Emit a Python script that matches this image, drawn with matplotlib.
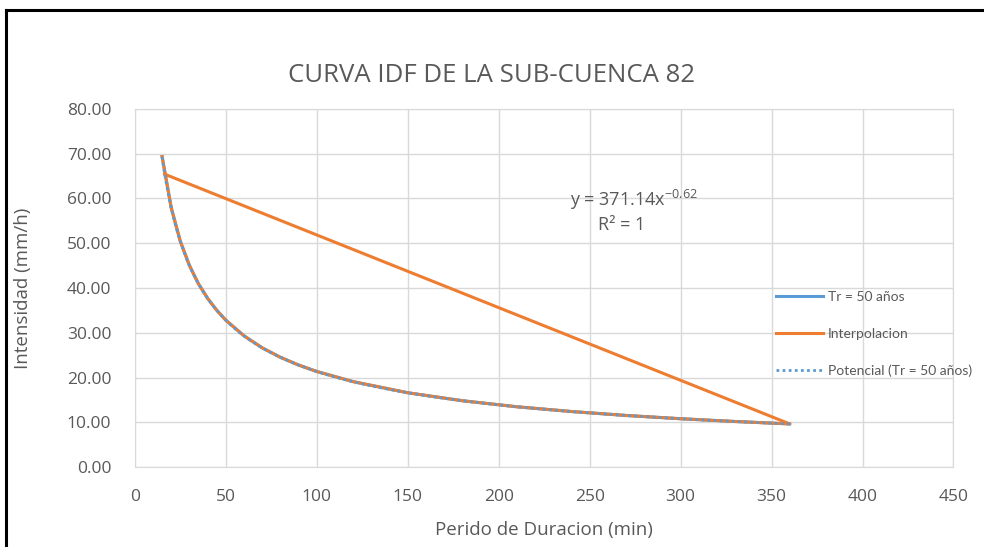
import matplotlib
matplotlib.use('Agg')
import matplotlib.pyplot as plt
from matplotlib.lines import Line2D
from matplotlib.ticker import FormatStrFormatter, MultipleLocator
import numpy as np

# Datos (Tr = 50 años)
duracion = [15, 20, 25, 30, 35, 40, 45, 50, 60, 70, 80, 90, 100, 120, 150,
            180, 210, 240, 270, 300, 330, 360]
intensidad = [69.33, 57.95, 50.44, 45.05, 40.93, 37.70, 35.05, 32.82, 29.33,
              26.64, 24.53, 22.80, 21.36, 19.09, 16.61, 14.83, 13.48, 12.42,
              11.54, 10.81, 10.19, 9.65]
# punto interpolado (la serie vuelve al inicio)
punto_interp_x = 16.5
punto_interp_y = 65.4

coef_a = 371.14
coef_b = -0.62

titulo = "CURVA IDF DE LA SUB-CUENCA 82"
gris = "#595959"

plt.rcParams['font.family'] = ['Open Sans', 'DejaVu Sans']

fig = plt.figure(figsize=(9.84, 5.47), dpi=100)
ax = fig.add_axes([0.137, 0.146, 0.832, 0.655])

interp_x = duracion + [punto_interp_x]
interp_y = intensidad + [punto_interp_y]
xs = np.linspace(min(duracion), max(duracion), 400)

ax.plot(duracion, intensidad, color="#5b9bd5", lw=2.2, label="Tr = 50 años", zorder=3)
ax.plot(interp_x, interp_y, color="#ed7d31", lw=2.2, label="Interpolacion", zorder=4)
ax.plot(xs, coef_a * xs ** coef_b, color="#5b9bd5", lw=2.0, ls=(0, (1, 1.2)),
        label="Potencial (Tr = 50 años)", zorder=5)

ax.set_xlim(0, 450)
ax.set_ylim(0, 80)
ax.xaxis.set_major_locator(MultipleLocator(50))
ax.yaxis.set_major_locator(MultipleLocator(10))
ax.yaxis.set_major_formatter(FormatStrFormatter('%.2f'))
ax.grid(True, color="#d9d9d9", lw=1.0)
ax.set_axisbelow(True)
for s in ax.spines.values():
    s.set_color("#d9d9d9")
ax.tick_params(length=0, colors=gris, labelsize=12.5)
ax.tick_params(axis="x", pad=16)
ax.tick_params(axis="y", pad=17)

ax.set_xlabel("Perido de Duracion (min)", color=gris, fontsize=13.5)
ax.set_ylabel("Intensidad (mm/h)", color=gris, fontsize=13.5)
ax.xaxis.set_label_coords(0.5, -0.15)
ax.yaxis.set_label_coords(-0.126, 0.5)
fig.text(0.5, 0.862, titulo, ha="center", va="center", color=gris, fontsize=18.5)

ax.text(0.532, 0.746, r"y = 371.14x$^{\mathregular{-0.62}}$", transform=ax.transAxes,
        color=gris, fontsize=13, ha="left", va="center")
ax.text(0.566, 0.676, "R² = 1", transform=ax.transAxes, color=gris,
        fontsize=13, ha="left", va="center")

leg = ax.legend(loc="center left", bbox_to_anchor=(0.776, 0.3715), frameon=False,
                prop={'family': ['Lato', 'DejaVu Sans'], 'size': 10},
                handlelength=3.4, labelspacing=1.8, handletextpad=0.35,
                borderaxespad=0)
for t in leg.get_texts():
    t.set_color(gris)

# marco del area del grafico
fig.add_artist(Line2D([6 / 984, 1], [1 - 10 / 547, 1 - 10 / 547], color="black", lw=2.2))
fig.add_artist(Line2D([6 / 984, 6 / 984], [0, 1 - 10 / 547], color="black", lw=2.2))

fig.savefig("out.png", dpi=100)
plt.close(fig)
